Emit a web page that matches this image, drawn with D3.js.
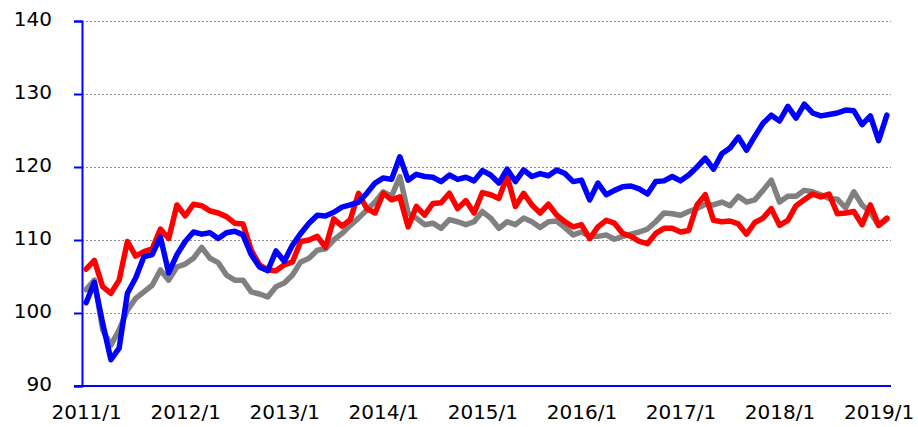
<!DOCTYPE html>
<html>
<head>
<meta charset="utf-8">
<script src="https://cdn.jsdelivr.net/npm/d3@7"></script>
<style>
body { margin: 0; background: #fff; }
text { font-family: "DejaVu Sans", Verdana, sans-serif; }
</style>
</head>
<body>
<div class="chart"></div>
<script>
// monthly categories 2011/1 .. 2019/2
const months = []
for (let yr = 2011; yr <= 2019; yr++) {
  for (let m = 1; m <= 12; m++) {
    if (yr == 2019 && m > 2) break
    months.push(`${yr}/${m}`)
  }
}

const xLabels = ['2011/1','2012/1','2013/1','2014/1','2015/1','2016/1','2017/1','2018/1','2019/1']
const yTicks = [90, 100, 110, 120, 130, 140]

const blue = [101.4,104.2,98.6,93.6,95.2,102.7,104.8,107.7,108.0,110.4,
  105.5,108.0,109.8,111.1,110.8,111.0,110.2,111.0,111.2,110.7,
  108.0,106.3,105.8,108.5,107.1,109.3,110.9,112.3,113.4,113.3,
  113.8,114.5,114.8,115.2,116.4,117.8,118.5,118.3,121.4,118.2,
  119.0,118.7,118.6,118.0,118.9,118.3,118.6,118.1,119.5,118.9,
  117.8,119.7,118.0,119.6,118.7,119.1,118.8,119.6,119.1,118.0,
  118.2,115.5,117.8,116.2,116.8,117.3,117.4,117.0,116.3,118.0,
  118.1,118.7,118.1,118.9,120.0,121.2,119.7,121.8,122.6,124.1,
  122.3,124.2,126.0,127.1,126.3,128.3,126.7,128.6,127.4,127.0,
  127.2,127.4,127.8,127.7,125.8,127.0,123.6,127.1]

const red = [106.0,107.2,103.6,102.7,104.5,109.8,107.8,108.4,108.8,111.5,
  110.2,114.8,113.3,114.9,114.7,114.0,113.7,113.2,112.3,112.2,
  108.6,106.6,105.9,105.8,106.6,107.0,109.8,110.0,110.5,109.0,
  112.9,111.9,112.8,116.4,114.3,113.7,116.4,115.5,115.9,111.8,
  114.6,113.4,115.0,115.1,116.4,114.3,115.4,113.7,116.5,116.2,
  115.7,118.7,114.6,116.4,114.8,113.7,114.9,113.4,112.5,111.8,
  112.1,110.2,111.8,112.7,112.3,110.9,110.5,109.8,109.5,110.9,
  111.6,111.6,111.1,111.3,114.8,116.2,112.7,112.5,112.6,112.2,
  110.8,112.4,113.0,114.3,112.0,112.7,114.7,115.5,116.3,115.9,
  116.3,113.6,113.7,113.9,112.1,114.8,112.0,113.0]

const gray = [103.2,104.5,97.7,95.6,97.7,100.4,102.0,102.9,103.8,105.9,
  104.5,106.3,106.7,107.5,109.0,107.5,106.9,105.2,104.5,104.5,
  102.9,102.6,102.2,103.6,104.1,105.2,107.0,107.5,108.6,108.8,
  110.0,110.9,112.0,113.0,114.1,115.2,116.6,116.0,118.7,113.7,
  113.0,112.1,112.3,111.6,112.8,112.5,112.1,112.5,113.9,113.0,
  111.6,112.5,112.1,113.0,112.5,111.7,112.5,112.6,111.7,110.7,
  111.1,110.5,110.5,110.7,110.1,110.5,110.8,111.1,111.5,112.5,
  113.7,113.6,113.4,113.9,114.3,114.9,114.8,115.2,114.7,116.0,
  115.2,115.5,116.8,118.2,115.2,116.0,116.0,116.8,116.6,116.2,
  115.7,115.6,114.4,116.6,114.8,113.8,112.0,112.8]

const series = [
  {name: 'gray', values: gray, color: '#808080'},
  {name: 'red', values: red, color: '#ff0000'},
  {name: 'blue', values: blue, color: '#0000ff'}
]

const width = 918, height = 427
const margin = ({top: 21, right: 891, bottom: 386, left: 82})

const svg = d3.select('.chart').append('svg')
  .attr('width', width)
  .attr('height', height)

const x = d3.scalePoint()
  .domain(months)
  .range([margin.left, margin.right])
  .padding(0.5)

const y = d3.scaleLinear()
  .domain([90, 140])
  .range([margin.bottom, margin.top])

// dotted gridlines
svg.selectAll('.grid')
  .data(yTicks.filter(d => d > 90))
  .enter()
  .append('line')
  .attr('class', 'grid')
  .attr('x1', margin.left)
  .attr('x2', margin.right)
  .attr('y1', d => y(d) + 0.5)
  .attr('y2', d => y(d) + 0.5)
  .attr('stroke', '#8c8c8c')
  .attr('stroke-width', 1.2)
  .attr('stroke-dasharray', '2,2')

// y axis
const yAxis = svg.append('g')
  .attr('transform', `translate(${margin.left},0)`)
  .call(d3.axisLeft(y).tickValues(yTicks).tickSize(8).tickPadding(22))
yAxis.select('.domain').attr('stroke', '#0000ff').attr('stroke-width', 2)
yAxis.selectAll('.tick line').attr('stroke', '#0000ff').attr('stroke-width', 2)
yAxis.selectAll('.tick text')
  .attr('font-size', 20)
  .attr('fill', '#000')
  .attr('font-family', '"DejaVu Sans", Verdana, sans-serif')
  .attr('dy', '0.2em')

// x axis
const xAxis = svg.append('g')
  .attr('transform', `translate(0,${margin.bottom})`)
  .call(d3.axisBottom(x).tickValues(xLabels).tickSize(0).tickPadding(19))
xAxis.select('.domain').remove()
xAxis.append('line')
  .attr('x1', margin.left - 8)
  .attr('x2', margin.right)
  .attr('y1', 0)
  .attr('y2', 0)
  .attr('stroke', '#0000ff')
  .attr('stroke-width', 2)
xAxis.selectAll('.tick text')
  .attr('font-size', 20)
  .attr('fill', '#000')
  .attr('font-family', '"DejaVu Sans", Verdana, sans-serif')

const line = d3.line()
  .x((d, i) => x(months[i]))
  .y(d => y(d))

svg.selectAll('.series')
  .data(series)
  .enter()
  .append('path')
  .attr('class', 'series')
  .attr('d', d => line(d.values))
  .attr('fill', 'none')
  .attr('stroke', d => d.color)
  .attr('stroke-width', 5.5)
  .attr('stroke-linejoin', 'round')
  .attr('stroke-linecap', 'round')
</script>
</body>
</html>
